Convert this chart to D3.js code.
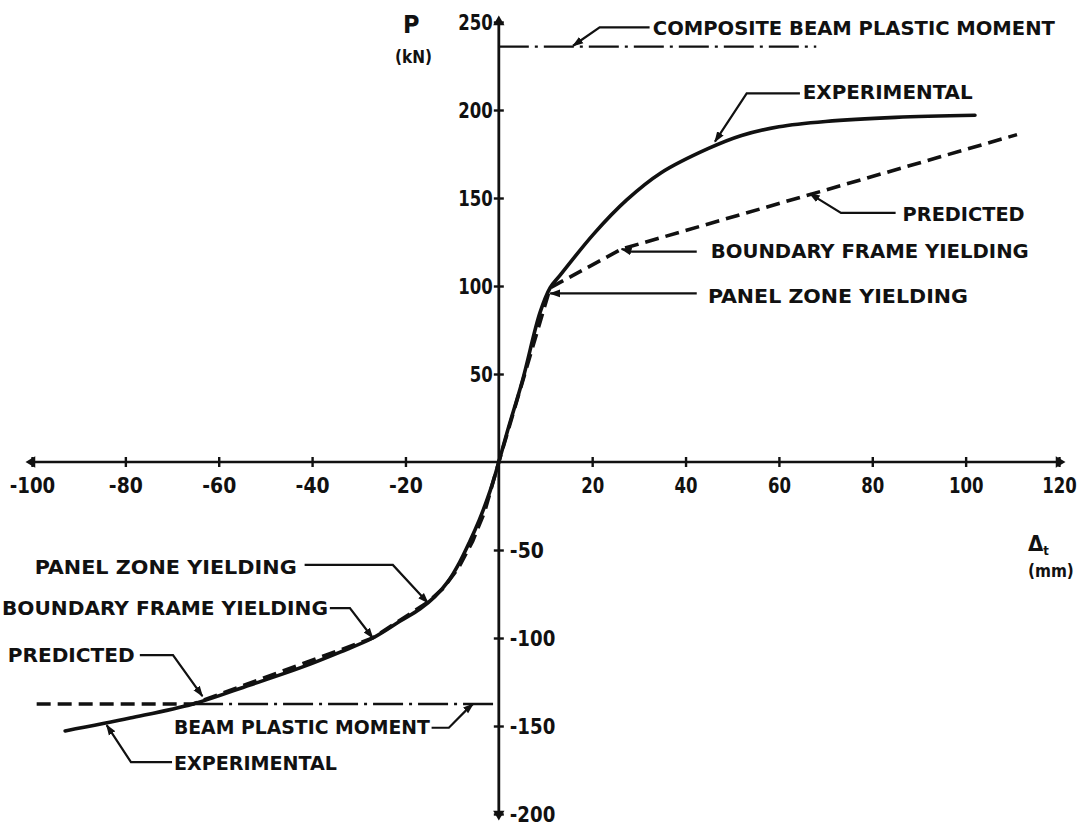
<!DOCTYPE html>
<html><head><meta charset="utf-8">
<script src="https://cdn.jsdelivr.net/npm/d3@7"></script>
<style>
body{margin:0;background:#fff;}
svg text{font-family:"DejaVu Sans Condensed","DejaVu Sans",sans-serif;font-stretch:condensed;font-weight:bold;fill:#111;}
</style></head><body><svg id="c" width="1087" height="827"></svg>
<script>
// ---- data ----
const xTicks = [-100,-80,-60,-40,-20,20,40,60,80,100,120];
const yTicks = [250,200,150,100,50,-50,-100,-150,-200];
const expDelta = [-92.9,-79,-65.5,-53.3,-42.6,-34,-27,-21.2,-16.9,-13.7,-10.9,-8.4,-6.2,-4.2,-2.6,-1.2,0,1.9,5.1,8.8,11,13.1,20.3,27.4,34.7,44.8,52,60,70,85,102];
const expLoad  = [-152.8,-145.5,-137.5,-126.7,-117,-108,-100,-90.5,-83.5,-76.5,-68,-57,-45,-33,-22,-11,0,18,46.6,84.7,99,106,129.5,148.9,164.2,178,185.5,190.5,193.5,195.8,197];
const predDelta = [-99,-65.5,-27,-15.4,-12,-8.6,-5.6,-3,-1.2,0,11,26.3,111];
const predLoad  = [-137.5,-137.5,-100,-80,-72,-60,-45,-28,-11,0,99,121,186];
const compositeMoment = 236, compositeRange = [0,68];
const beamMoment = -137.5, beamRange = [-65.5,0];
const noteTexts = ["COMPOSITE BEAM PLASTIC MOMENT","EXPERIMENTAL","PREDICTED","BOUNDARY FRAME YIELDING","PANEL ZONE YIELDING",
                   "PANEL ZONE YIELDING","BOUNDARY FRAME YIELDING","PREDICTED","BEAM PLASTIC MOMENT","EXPERIMENTAL"];
// leader polylines (data coords, label end -> tip)
const noteLeaders = [
  [[32.3,247],[21.6,247],[15.9,236.5]],
  [[64.5,209.5],[53.1,209.5],[46.3,182]],
  [[85,141.5],[73.3,141.5],[66.6,152.5]],
  [[42.4,119.5],[28.5,119.5],[26.3,121]],
  [[42.4,95.8],[11,95.8]],
  [[-41.6,-58.5],[-22.7,-58.5],[-15.2,-80]],
  [[-36.2,-83],[-31.9,-83],[-27,-100]],
  [[-76.9,-109.7],[-69.8,-109.7],[-63.5,-133]],
  [[-14.4,-151],[-10.7,-151],[-6.6,-140],[-5.5,-137.5]],
  [[-70,-170.5],[-78.8,-170.5],[-84,-149.5]]
];
const noteAnchor = [[33,246.3,"start"],[65.1,210,"start"],[86.5,141,"start"],[45.4,119.9,"start"],[44.8,94,"start"],
                    [-43.3,-59.7,"end"],[-36.6,-83,"end"],[-78,-109.7,"end"],[-69.6,-150.6,"start"],[-69.6,-171,"start"]];
const noteWidths = [402,170,122,318,260,262,326,127,256,163];

// ---- chart ----
const svg = d3.select("#c");
const x = d3.scaleLinear().domain([-100,120]).range([32,1059]);
const y = d3.scaleLinear().domain([-200,250]).range([814,22]);
const ink = "#111";
const labelLen = s => s.replace("-","").length*11.5 + (s.startsWith("-")?11:0);

const defs = svg.append("defs");
defs.append("marker").attr("id","tip").attr("viewBox","0 0 10 10").attr("refX",9).attr("refY",5)
  .attr("markerWidth",5).attr("markerHeight",5).attr("orient","auto").attr("markerUnits","strokeWidth")
  .append("path").attr("d","M0,1.5L10,5L0,8.5Z").attr("fill",ink);

// x axis
const gx = svg.append("g").attr("transform",`translate(0,${y(0)})`)
  .call(d3.axisBottom(x).tickValues(xTicks).tickSizeOuter(0).tickSize(5).tickPadding(10).tickFormat(d=>String(d)));
gx.attr("font-family",null).attr("font-size",null);
gx.select(".domain").attr("stroke",ink).attr("stroke-width",2.6).attr("d",`M${x(-100)},0H${x(120)}`);
gx.selectAll(".tick line").attr("y1",-5).attr("y2",5).attr("stroke",ink).attr("stroke-width",2.4);
gx.selectAll(".tick text").attr("font-size",22).attr("fill",ink)
  .attr("textLength",d=>labelLen(String(d))).attr("lengthAdjust","spacingAndGlyphs");

// y axis
const gy = svg.append("g").attr("transform",`translate(${x(0)},0)`)
  .call(d3.axisLeft(y).tickValues(yTicks).tickSizeOuter(0).tickSize(5).tickPadding(1).tickFormat(d=>String(d)));
gy.attr("font-family",null).attr("font-size",null);
gy.select(".domain").attr("stroke",ink).attr("stroke-width",2.8).attr("d",`M0,${y(250)}V${y(-200)}`);
gy.selectAll(".tick line").attr("x1",-5).attr("x2",5).attr("stroke",ink).attr("stroke-width",2.4);
gy.selectAll(".tick text").attr("font-size",22).attr("fill",ink)
  .attr("textLength",d=>labelLen(String(d))).attr("lengthAdjust","spacingAndGlyphs")
  .filter(d=>d<0).attr("text-anchor","start").attr("x",11);

// axis arrow heads
const tri = d3.symbol().type(d3.symbolTriangle).size(55);
[[x(-100),y(0),-90],[x(120),y(0),90],[x(0),y(250),0],[x(0),y(-200),180]].forEach(([px,py,r])=>{
  svg.append("path").attr("d",tri()).attr("fill",ink).attr("transform",`translate(${px},${py}) rotate(${r})`);
});

// plastic moment lines
svg.append("line").attr("x1",x(compositeRange[0])).attr("x2",x(compositeRange[1]))
  .attr("y1",y(compositeMoment)).attr("y2",y(compositeMoment))
  .attr("stroke",ink).attr("stroke-width",2.3).attr("stroke-dasharray","30,6,3,6");
svg.append("line").attr("x1",x(beamRange[0])).attr("x2",x(beamRange[1]))
  .attr("y1",y(beamMoment)).attr("y2",y(beamMoment))
  .attr("stroke",ink).attr("stroke-width",2.3).attr("stroke-dasharray","30,6,3,6");

// curves
const expData = expDelta.map((d,i)=>[d,expLoad[i]]);
const predData = predDelta.map((d,i)=>[d,predLoad[i]]);
svg.append("path").datum(predData)
  .attr("d",d3.line().x(d=>x(d[0])).y(d=>y(d[1])))
  .attr("fill","none").attr("stroke",ink).attr("stroke-width",3.6).attr("stroke-dasharray","14,7");
svg.append("path").datum(expData)
  .attr("d",d3.line().x(d=>x(d[0])).y(d=>y(d[1])).curve(d3.curveCatmullRom.alpha(0.5)))
  .attr("fill","none").attr("stroke",ink).attr("stroke-width",3.6).attr("stroke-linecap","round");

// annotations
noteTexts.forEach((t,i)=>{
  svg.append("path").datum(noteLeaders[i])
    .attr("d",d3.line().x(d=>x(d[0])).y(d=>y(d[1])))
    .attr("fill","none").attr("stroke",ink).attr("stroke-width",2.2).attr("marker-end","url(#tip)");
  const [ax,ay,anc]=noteAnchor[i];
  svg.append("text").attr("x",x(ax)).attr("y",y(ay)).attr("dy","0.36em")
    .attr("text-anchor",anc).attr("font-size",19)
    .attr("textLength",noteWidths[i]).attr("lengthAdjust","spacingAndGlyphs").text(t);
});

// axis titles
svg.append("text").attr("x",403).attr("y",33).attr("font-size",25).text("P");
svg.append("text").attr("x",395).attr("y",63).attr("font-size",17).text("(kN)");
const dl = svg.append("text").attr("x",1028).attr("y",551).attr("font-size",22);
dl.append("tspan").text("Δ");
dl.append("tspan").attr("font-size",13).attr("dy",4).text("t");
svg.append("text").attr("x",1028).attr("y",577).attr("font-size",17).text("(mm)");
</script></body></html>
